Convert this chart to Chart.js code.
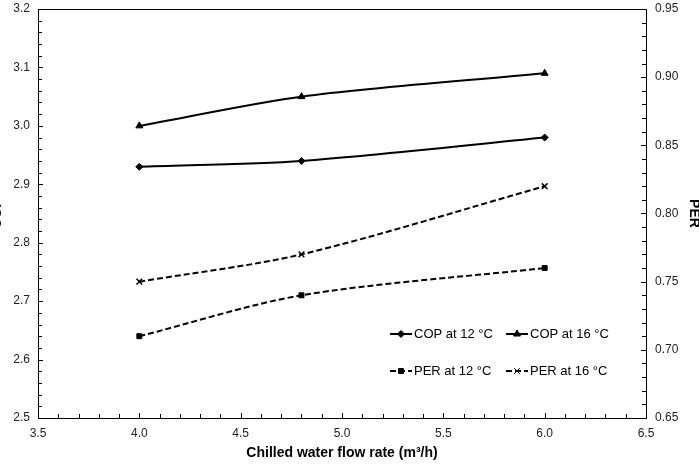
<!DOCTYPE html>
<html>
<head>
<meta charset="utf-8">
<script src="https://cdn.jsdelivr.net/npm/chart.js@4.4.1/dist/chart.umd.min.js"></script>
<style>
  html, body { margin: 0; padding: 0; background: #fff; overflow: hidden; }
  #wrap { position: relative; width: 699px; height: 468px; overflow: hidden; }
  #c { position: absolute; left: -13px; top: 0; }
</style>
</head>
<body>
<div id="wrap"><canvas id="c" width="715" height="468"></canvas></div>
<script>
// values
const flowRate = [4.0, 4.8, 6.0];
const copAt12 = [2.93, 2.94, 2.98];
const copAt16 = [3.00, 3.05, 3.09];
const perAt12 = [0.71, 0.74, 0.76];
const perAt16 = [0.75, 0.77, 0.82];

const xTitle = 'Chilled water flow rate (m\u00B3/h)';
const seriesNames = ['COP at 12 \u00B0C', 'COP at 16 \u00B0C', 'PER at 12 \u00B0C', 'PER at 16 \u00B0C'];

const FONT = 'Liberation Sans, Arial, sans-serif';
const pts = ys => flowRate.map((x, i) => ({ x: x, y: ys[i] }));

const baseLine = {
  borderColor: '#000',
  backgroundColor: '#000',
  pointBorderColor: '#000',
  pointBackgroundColor: '#000',
  borderWidth: 2,
  tension: 0.3,
  fill: false,
};

const noGrid = { display: false, drawTicks: false, tickLength: 0 };

// fixed scale sizes so the plot box lands where the reference has it
const fixSize = (w, h) => s => {
  if (w) s.width = w;
  if (h) s.height = h;
  s.paddingTop = 0; s.paddingBottom = 0;
  s.paddingLeft = 0; s.paddingRight = 0;
};

// inward tick marks, box frame and the in-plot legend
const framePlugin = {
  id: 'framePlugin',
  afterDraw(chart) {
    const ctx = chart.ctx;
    const a = chart.chartArea;
    const sx = chart.scales.x, sy = chart.scales.y, sy2 = chart.scales.y2;
    ctx.save();
    ctx.strokeStyle = '#000';
    ctx.lineWidth = 1;
    ctx.strokeRect(Math.round(a.left) + 0.5, Math.round(a.top) + 0.5,
      Math.round(a.right - a.left), Math.round(a.bottom - a.top));
    ctx.beginPath();
    for (let i = 0; i <= 30; i++) {
      const px = Math.round(sx.getPixelForValue(3.5 + i * 0.1)) + 0.5;
      const len = i % 5 === 0 ? 5 : 4;
      ctx.moveTo(px, a.bottom);
      ctx.lineTo(px, a.bottom - len);
    }
    for (let i = 0; i <= 35; i++) {
      const py = Math.round(sy.getPixelForValue(2.5 + i * 0.02)) + 0.5;
      const len = i % 5 === 0 ? 5 : 4;
      ctx.moveTo(a.left, py);
      ctx.lineTo(a.left + len, py);
    }
    for (let i = 0; i <= 30; i++) {
      const py = Math.round(sy2.getPixelForValue(0.65 + i * 0.01)) + 0.5;
      const len = i % 5 === 0 ? 5 : 4;
      ctx.moveTo(a.right, py);
      ctx.lineTo(a.right - len, py);
    }
    ctx.stroke();

    // legend, 2 x 2
    const spots = [
      [a.left + 352, a.top + 325],
      [a.left + 468, a.top + 325],
      [a.left + 352, a.top + 362],
      [a.left + 468, a.top + 362],
    ];
    ctx.font = '13px ' + FONT;
    ctx.textBaseline = 'middle';
    chart.data.datasets.forEach((ds, i) => {
      const [lx, ly] = spots[i];
      ctx.save();
      ctx.beginPath();
      ctx.setLineDash(ds.borderDash || []);
      ctx.lineWidth = 2;
      ctx.moveTo(lx, ly);
      ctx.lineTo(lx + 22, ly);
      ctx.stroke();
      ctx.restore();
      Chart.helpers.drawPoint(ctx, {
        pointStyle: ds.pointStyle,
        radius: ds.pointRadius,
        borderWidth: ds.pointBorderWidth || 1,
      }, lx + 11, ly);
      ctx.fillStyle = '#000';
      ctx.fillText(ds.label, lx + 24, ly + 0.5);
    });
    ctx.restore();
  }
};

new Chart(document.getElementById('c'), {
  type: 'line',
  data: {
    datasets: [
      Object.assign({}, baseLine, { label: seriesNames[0], data: pts(copAt12), yAxisID: 'y',
        pointStyle: 'rectRot', pointRadius: 3.5, pointBorderWidth: 1 }),
      Object.assign({}, baseLine, { label: seriesNames[1], data: pts(copAt16), yAxisID: 'y',
        pointStyle: 'triangle', pointRadius: 4, pointBorderWidth: 1 }),
      Object.assign({}, baseLine, { label: seriesNames[2], data: pts(perAt12), yAxisID: 'y2',
        borderDash: [6, 3], pointStyle: 'rect', pointRadius: 3.5, pointBorderWidth: 1 }),
      Object.assign({}, baseLine, { label: seriesNames[3], data: pts(perAt16), yAxisID: 'y2',
        borderDash: [6, 3], pointStyle: 'crossRot', pointRadius: 4, pointBorderWidth: 1.5 }),
    ]
  },
  options: {
    responsive: false,
    animation: false,
    layout: { padding: { top: 9, left: 0, right: 0, bottom: 0 } },
    plugins: { legend: { display: false }, tooltip: { enabled: false } },
    scales: {
      x: {
        type: 'linear',
        min: 3.5, max: 6.5,
        grid: noGrid,
        border: { display: false },
        ticks: { stepSize: 0.5, color: '#222', font: { family: FONT, size: 12 }, padding: 8,
          callback: v => v.toFixed(1) },
        title: { display: true, text: xTitle, color: '#000', padding: { top: 0, bottom: 6 },
          font: { family: FONT, size: 14, weight: 'bold' } },
        afterFit: fixSize(0, 50)
      },
      y: {
        position: 'left',
        min: 2.5, max: 3.2,
        grid: noGrid,
        border: { display: false },
        ticks: { stepSize: 0.1, color: '#222', font: { family: FONT, size: 12 }, padding: 8,
          callback: v => v.toFixed(1) },
        title: { display: true, text: 'COP', color: '#000', padding: { top: 2, bottom: 0 },
          font: { family: FONT, size: 14, weight: 'bold' } },
        afterFit: fixSize(51, 0)
      },
      y2: {
        position: 'right',
        min: 0.65, max: 0.95,
        grid: noGrid,
        border: { display: false },
        ticks: { stepSize: 0.05, color: '#222', font: { family: FONT, size: 12 }, padding: 9,
          callback: v => v.toFixed(2) },
        title: { display: true, text: 'PER', color: '#000', padding: { top: 0, bottom: 0 },
          font: { family: FONT, size: 14, weight: 'bold' } },
        afterFit: fixSize(56, 0)
      }
    }
  },
  plugins: [framePlugin]
});
</script>
</body>
</html>
